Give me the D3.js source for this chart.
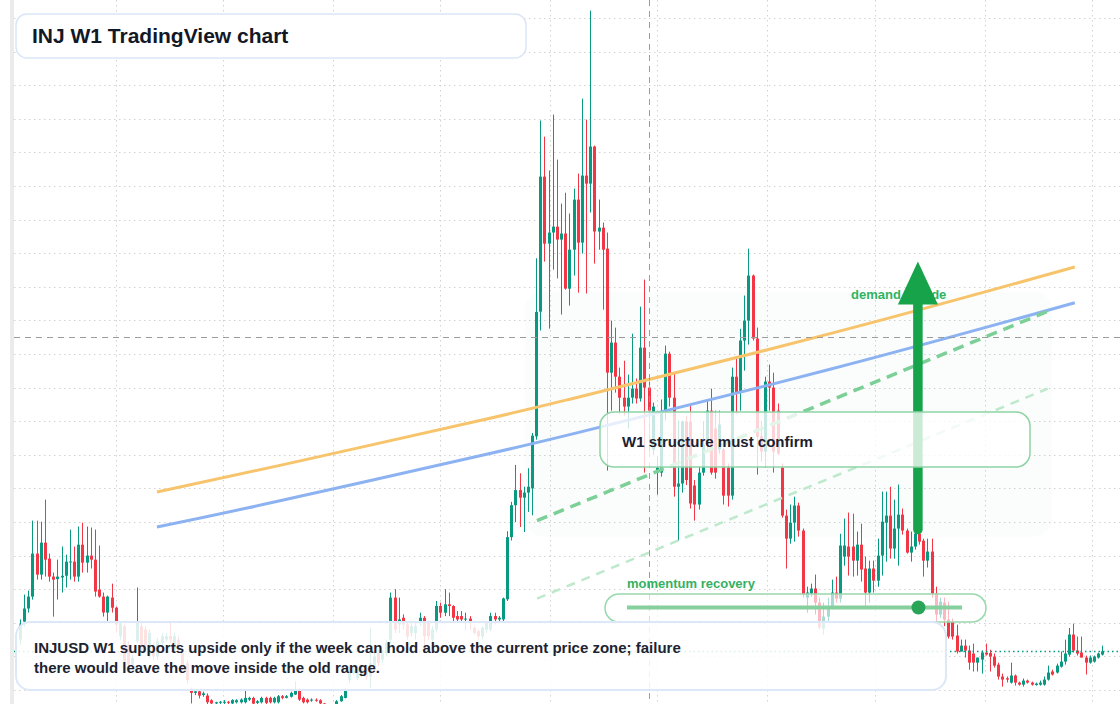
<!DOCTYPE html>
<html>
<head>
<meta charset="utf-8">
<script src="https://cdn.jsdelivr.net/npm/d3@7"></script>
<style>
  html, body { margin: 0; padding: 0; background: #fff; }
  #chart { width: 1120px; height: 704px; overflow: hidden; }
  text { font-family: "Liberation Sans", Arial, sans-serif; }
</style>
</head>
<body>
<div id="chart"></div>
<script>
// weekly INJUSD candles, first week and OHLC
const firstWeek = "2020-07-24";

const openPrices = [
    5.0, 6.07, 6.85, 7.56, 10.12, 8.87, 10.77, 9.82, 8.75, 8.6,
    8.7, 8.8, 9.6, 9.64, 8.75, 10.65, 9.58, 10.0, 9.76, 7.98,
    7.56, 6.61, 7.5, 6.9, 5.2, 5.8, 4.7, 3.5, 4.9, 5.8,
    5.6, 4.1, 4.6, 4.0, 4.8, 5.0, 5.2, 4.4, 5.0, 4.2,
    3.6, 1.98, 1.83, 1.92, 1.7, 1.67, 1.39, 1.2, 1.25, 1.25,
    1.3, 1.2, 1.27, 1.27, 1.27, 1.43, 1.53, 1.23, 1.27, 1.53,
    1.53, 1.27, 1.27, 1.63, 1.53, 1.6, 1.73, 1.98, 1.53, 1.43,
    1.38, 1.42, 1.39, 1.2, 1.05, 0.95, 1.15, 1.33, 1.53, 2.6,
    3.0, 2.7, 2.9, 3.3, 2.8, 3.4, 4.2, 3.8, 4.2, 5.0,
    7.5, 5.9, 6.3, 5.9, 5.4, 5.4, 6.0, 6.3, 6.0, 5.0,
    5.6, 7.0, 6.6, 7.1, 7.0, 6.4, 6.4, 6.2, 6.25, 5.7,
    5.5, 5.2, 5.6, 5.6, 6.4, 6.2, 6.2, 7.4, 11.1, 13.0,
    13.9, 13.45, 13.75, 14.0, 17.1, 24.52, 32.56, 28.57, 29.23, 29.58,
    28.81, 29.17, 25.89, 28.21, 31.19, 28.63, 32.62, 32.14, 34.35, 29.29,
    29.52, 28.27, 20.89, 22.68, 20.65, 19.4, 18.87, 19.4, 19.94, 19.35,
    22.38, 20.0, 16.31, 14.94, 14.94, 18.57, 22.02, 19.4, 14.1, 14.29,
    17.98, 17.98, 14.17, 13.04, 14.94, 16.61, 18.63, 17.56, 16.31, 16.31,
    15.24, 13.57, 20.65, 19.7, 22.8, 23.99, 26.67, 22.92, 17.1, 16.19,
    20.36, 20.0, 18.63, 15.24, 12.38, 11.01, 11.96, 12.98, 11.49, 7.5,
    7.74, 8.04, 7.2, 5.65, 6.37, 6.9, 7.8, 7.44, 9.94, 10.54,
    10.54, 9.7, 10.65, 9.23, 7.8, 9.23, 8.51, 10.0, 11.96, 12.38,
    10.42, 11.61, 12.44, 11.49, 10.18, 10.54, 11.31, 10.89, 9.7, 10.24,
    7.74, 6.49, 7.2, 6.19, 6.07, 5.24, 4.29, 4.64, 4.35, 4.17,
    3.63, 3.81, 4.23, 4.2, 3.99, 3.51, 2.8, 2.7, 2.44, 2.86,
    2.44, 2.32, 2.56, 2.44, 2.3, 2.32, 2.32, 2.62, 3.1, 3.04,
    3.39, 3.69, 4.11, 5.3, 4.35, 4.23, 3.93, 3.63, 3.69, 3.93, 4.11
];
const highPrices = [
    6.2, 7.68, 7.92, 12.08, 12.08, 12.02, 13.33, 10.12, 8.99, 9.76,
    10.54, 10.06, 11.55, 10.54, 11.73, 11.96, 11.73, 11.67, 11.55, 10.6,
    7.8, 7.62, 8.33, 6.96, 6.1, 5.9, 4.9, 4.1, 8.1, 6.0,
    5.8, 5.6, 4.8, 5.1, 5.4, 5.4, 6.1, 5.4, 5.2, 4.4,
    3.8, 2.14, 2.0, 2.0, 1.9, 1.8, 1.45, 1.3, 1.35, 1.4,
    1.35, 1.45, 1.45, 1.5, 2.0, 1.6, 1.6, 1.4, 1.6, 1.6,
    1.6, 1.6, 1.7, 1.7, 1.7, 1.9, 2.52, 2.1, 1.6, 1.5,
    1.5, 1.5, 1.45, 1.22, 1.1, 1.15, 1.4, 1.7, 2.1, 3.4,
    3.5, 3.4, 3.5, 3.4, 5.7, 4.2, 4.4, 4.4, 5.0, 7.8,
    8.0, 7.5, 6.5, 6.0, 6.0, 6.0, 6.6, 6.4, 6.1, 5.8,
    7.3, 7.2, 8.0, 7.8, 7.05, 6.7, 6.7, 6.6, 6.4, 5.8,
    5.6, 5.8, 6.1, 6.6, 6.6, 6.4, 7.5, 11.45, 13.2, 15.4,
    14.9, 14.1, 15.2, 17.3, 27.7, 35.9, 34.94, 32.92, 36.25, 33.57,
    30.95, 31.6, 30.36, 31.85, 32.74, 37.2, 35.95, 42.44, 34.4, 31.19,
    29.82, 29.23, 23.99, 23.57, 21.19, 21.6, 20.77, 23.21, 20.54, 24.82,
    26.43, 20.36, 19.1, 15.9, 19.29, 22.5, 22.14, 20.89, 18.04, 18.04,
    18.3, 18.9, 14.5, 15.3, 18.0, 19.29, 19.94, 18.63, 18.63, 16.43,
    15.48, 21.19, 21.85, 23.5, 25.48, 28.27, 26.73, 23.57, 18.0, 20.65,
    21.37, 20.89, 19.05, 15.48, 12.74, 13.04, 13.51, 13.15, 11.61, 8.15,
    8.33, 8.87, 7.5, 7.2, 7.5, 8.57, 8.75, 11.3, 12.2, 12.56,
    12.5, 11.43, 11.9, 9.94, 9.7, 9.7, 11.01, 13.81, 13.81, 14.1,
    13.33, 14.23, 12.8, 11.61, 11.43, 12.02, 11.43, 11.01, 11.01, 11.01,
    8.15, 7.5, 7.5, 7.26, 6.25, 5.89, 5.0, 5.0, 4.64, 4.76,
    3.93, 4.35, 4.76, 4.4, 4.17, 3.63, 2.98, 2.8, 3.63, 2.92,
    2.5, 2.68, 2.62, 2.5, 2.44, 2.56, 2.8, 3.45, 3.21, 3.57,
    4.29, 5.0, 5.69, 5.95, 5.18, 5.18, 4.05, 4.05, 4.05, 4.23, 4.64
];
const lowPrices = [
    4.7, 5.77, 6.61, 7.38, 8.57, 8.57, 8.75, 8.45, 6.37, 7.38,
    7.8, 8.1, 8.57, 8.45, 8.45, 8.99, 8.99, 9.23, 7.56, 7.5,
    6.37, 6.07, 6.61, 5.42, 5.0, 3.5, 3.3, 3.3, 4.8, 4.2,
    4.4, 3.9, 3.8, 3.8, 4.6, 4.9, 4.8, 4.2, 4.2, 3.2,
    2.4, 1.2, 1.7, 1.5, 1.6, 1.1, 1.0, 1.1, 1.15, 1.1,
    1.1, 1.1, 1.2, 1.2, 1.2, 1.35, 1.1, 1.15, 1.2, 1.15,
    1.2, 1.2, 1.2, 1.45, 1.5, 1.55, 1.7, 1.35, 1.2, 1.2,
    1.3, 1.3, 1.1, 0.95, 0.85, 0.9, 1.1, 1.3, 1.5, 2.4,
    2.9, 2.6, 2.8, 2.6, 2.1, 3.3, 3.4, 3.6, 4.0, 4.8,
    5.4, 5.4, 5.6, 5.0, 5.2, 5.0, 5.8, 4.4, 5.0, 4.8,
    5.4, 6.3, 6.4, 6.4, 6.1, 6.1, 6.0, 5.55, 5.6, 5.3,
    5.0, 5.0, 5.4, 5.5, 5.9, 6.1, 6.1, 7.3, 10.9, 12.0,
    11.7, 11.4, 12.6, 12.4, 16.9, 23.4, 27.5, 23.51, 27.02, 26.5,
    24.35, 25.83, 24.88, 26.67, 25.65, 27.98, 25.6, 30.42, 27.38, 28.21,
    24.64, 15.06, 18.63, 19.7, 18.45, 18.33, 17.56, 19.05, 19.05, 19.17,
    14.94, 16.07, 16.0, 13.63, 14.7, 18.04, 18.87, 13.51, 10.89, 13.75,
    14.2, 12.8, 12.08, 12.74, 14.76, 16.37, 14.82, 14.58, 16.07, 13.04,
    12.92, 13.33, 18.45, 18.63, 21.01, 22.56, 22.8, 14.82, 15.6, 15.24,
    18.63, 14.94, 16.0, 12.26, 9.23, 10.71, 10.83, 11.13, 7.5, 6.6,
    7.56, 6.49, 5.6, 5.3, 6.0, 6.8, 7.2, 7.2, 9.4, 8.81,
    8.75, 8.81, 8.45, 6.85, 7.2, 7.8, 8.15, 8.81, 9.64, 9.82,
    9.82, 9.4, 11.25, 10.12, 9.64, 10.36, 10.65, 8.75, 9.29, 7.5,
    6.01, 6.3, 5.8, 5.06, 5.0, 4.17, 4.29, 3.93, 3.21, 3.1,
    3.1, 2.98, 4.05, 3.1, 3.33, 2.62, 2.2, 2.45, 2.38, 2.26,
    2.26, 2.2, 2.38, 2.26, 2.26, 2.26, 2.26, 2.56, 2.86, 2.98,
    3.33, 3.51, 3.99, 4.23, 4.05, 3.93, 2.92, 3.57, 3.63, 3.87, 4.05
];
const closePrices = [
    5.9, 6.85, 7.56, 10.12, 8.87, 10.77, 9.76, 8.75, 8.57, 8.75,
    8.8, 9.64, 9.65, 8.75, 10.65, 9.58, 10.0, 9.76, 7.86, 7.56,
    6.61, 7.56, 6.9, 5.89, 6.0, 3.7, 3.5, 3.9, 6.0, 4.4,
    4.6, 5.4, 4.0, 4.9, 5.2, 5.2, 5.0, 5.2, 4.4, 3.4,
    2.6, 1.83, 1.92, 1.67, 1.8, 1.27, 1.2, 1.27, 1.3, 1.3,
    1.25, 1.4, 1.39, 1.43, 1.53, 1.53, 1.19, 1.33, 1.53, 1.23,
    1.27, 1.53, 1.63, 1.53, 1.63, 1.83, 1.98, 1.43, 1.27, 1.27,
    1.43, 1.36, 1.2, 1.05, 0.95, 1.1, 1.33, 1.63, 2.02, 3.2,
    3.2, 3.3, 3.3, 2.8, 3.6, 4.0, 3.6, 4.2, 4.8, 7.5,
    5.6, 6.2, 5.9, 5.2, 5.8, 5.8, 6.3, 5.2, 5.2, 5.6,
    7.0, 6.6, 7.1, 7.0, 6.3, 6.2, 6.2, 6.25, 6.0, 5.4,
    5.2, 5.7, 6.0, 6.4, 6.2, 6.3, 7.45, 11.1, 13.0, 13.9,
    13.45, 13.75, 14.1, 17.14, 24.5, 32.56, 28.57, 29.23, 29.58, 28.81,
    29.17, 25.89, 28.21, 31.19, 28.63, 32.62, 32.14, 34.35, 29.29, 29.52,
    28.21, 20.89, 22.68, 20.65, 19.4, 18.87, 19.4, 19.94, 19.35, 22.38,
    20.0, 18.63, 18.87, 15.24, 18.57, 22.02, 19.4, 14.1, 14.29, 17.98,
    14.5, 13.1, 13.04, 14.94, 16.61, 18.63, 14.94, 14.94, 17.8, 13.57,
    13.57, 20.65, 19.7, 22.8, 23.99, 26.67, 22.92, 17.08, 16.2, 20.36,
    20.0, 16.19, 16.07, 12.38, 11.01, 11.96, 12.98, 11.49, 7.68, 7.8,
    8.04, 7.2, 5.71, 6.37, 6.9, 7.8, 7.44, 10.6, 10.6, 9.94,
    9.7, 10.65, 9.17, 7.8, 9.23, 8.51, 10.0, 12.02, 12.38, 10.42,
    11.61, 12.44, 11.49, 10.18, 10.54, 11.31, 10.83, 9.7, 10.24, 7.74,
    6.49, 7.26, 6.19, 5.18, 5.18, 4.29, 4.64, 4.35, 3.63, 3.63,
    3.93, 4.23, 4.11, 3.99, 3.45, 2.8, 2.62, 2.62, 2.86, 2.44,
    2.32, 2.56, 2.44, 2.32, 2.38, 2.44, 2.62, 3.04, 2.92, 3.45,
    3.69, 4.17, 5.3, 4.35, 4.17, 3.93, 3.63, 3.93, 3.99, 4.17, 4.3
];

// moving averages, sampled at week offsets
const maWeeks = [32.9, 62.45, 110.5, 134.5, 194.6, 253.4];
const maFast = [13.79, 15.37, 18.04, 19.46, 23.21, 27.18];
const maSlow = [11.70, 13.26, 15.94, 17.35, 21.09, 25.05];

// trend channel drawn on the chart
const channelWeeks = [124.2, 246.9];
const channelUpper = [12.08, 24.54];
const channelLower = [7.44, 19.94];

// demand zone and the upside arrow
const zoneWeeks = [121.3, 247.9];
const zonePrices = [11.13, 25.71];
const arrowWeek = 215.7;
const arrowPrices = [11.55, 27.5];

const crossWeek = 151;
const crossPrice = 23.0;
const momentumLevel = 0.87;

const titleText = "INJ W1 TradingView chart";
const noteLines = [
    "INJUSD W1 supports upside only if the week can hold above the current price zone; failure",
    "there would leave the move inside the old range."
];

class WeeklyCandleChart {
    constructor(parentElement) {
        this.parentElement = parentElement;
        this.initVis();
    }

    initVis() {
        let vis = this;

        vis.width = 1120;
        vis.height = 704;

        vis.svg = d3.select("#" + vis.parentElement)
            .append("svg")
            .attr("width", vis.width)
            .attr("height", vis.height)
            .style("display", "block");

        vis.start = new Date(firstWeek + "T00:00:00Z");
        vis.weekDate = w => new Date(vis.start.getTime() + w * 7 * 864e5);

        vis.xScale = d3.scaleUtc()
            .domain([vis.start, vis.weekDate(closePrices.length - 1)])
            .range([20, 1102.3]);

        vis.yScale = d3.scaleLinear()
            .domain([0, 42])
            .range([723.6, 18]);

        vis.up = "#089981";
        vis.down = "#f23645";

        vis.wrangleData();
    }

    wrangleData() {
        let vis = this;

        vis.displayData = closePrices.map((c, i) => ({
            date: vis.weekDate(i),
            open: openPrices[i],
            high: highPrices[i],
            low: lowPrices[i],
            close: c
        }));

        vis.updateVis();
    }

    updateVis() {
        let vis = this;
        const x = vis.xScale, y = vis.yScale;
        const svg = vis.svg;

        // left scale strip
        svg.append("rect")
            .attr("x", 10).attr("y", 0)
            .attr("width", 4).attr("height", vis.height)
            .attr("fill", "#ebebeb");

        // grid
        const grid = svg.append("g").attr("class", "grid")
            .attr("stroke", "#d2d2d2")
            .attr("stroke-width", 1)
            .attr("stroke-dasharray", "1.5,3.5");

        grid.selectAll(".h-grid")
            .data(y.ticks(21))
            .enter().append("line")
            .attr("class", "h-grid")
            .attr("x1", 14).attr("x2", vis.width)
            .attr("y1", d => Math.round(y(d)) + 0.5)
            .attr("y2", d => Math.round(y(d)) + 0.5);

        grid.selectAll(".v-grid")
            .data(x.ticks(d3.utcMonth.every(6)))
            .enter().append("line")
            .attr("class", "v-grid")
            .attr("y1", 0).attr("y2", vis.height)
            .attr("x1", d => Math.round(x(d)) + 0.5)
            .attr("x2", d => Math.round(x(d)) + 0.5);

        // demand zone
        const zx0 = x(vis.weekDate(zoneWeeks[0]));
        const zx1 = x(vis.weekDate(zoneWeeks[1]));
        svg.append("rect")
            .attr("x", zx0)
            .attr("y", y(zonePrices[1]))
            .attr("width", zx1 - zx0)
            .attr("height", y(zonePrices[0]) - y(zonePrices[1]))
            .attr("rx", 18)
            .attr("fill", "#16a34a")
            .attr("fill-opacity", 0.025);

        // candles
        const candles = svg.append("g").attr("class", "candles")
            .selectAll(".candle")
            .data(vis.displayData)
            .enter().append("g")
            .attr("class", "candle");

        candles.append("line")
            .attr("x1", d => Math.round(x(d.date)) + 0.5)
            .attr("x2", d => Math.round(x(d.date)) + 0.5)
            .attr("y1", d => y(d.high))
            .attr("y2", d => y(d.low))
            .attr("stroke", d => d.close >= d.open ? vis.up : vis.down)
            .attr("stroke-width", 1);

        candles.append("rect")
            .attr("x", d => Math.round(x(d.date)) - 1)
            .attr("width", 3)
            .attr("y", d => y(Math.max(d.open, d.close)))
            .attr("height", d => Math.max(1, Math.abs(y(d.open) - y(d.close))))
            .attr("fill", d => d.close >= d.open ? vis.up : vis.down);

        // moving averages
        const maLine = d3.line()
            .x(d => x(vis.weekDate(d[0])))
            .y(d => y(d[1]))
            .curve(d3.curveNatural);

        svg.append("path")
            .datum(maWeeks.map((w, i) => [w, maFast[i]]))
            .attr("d", maLine)
            .attr("fill", "none")
            .attr("stroke", "#f7c46c")
            .attr("stroke-width", 3);

        svg.append("path")
            .datum(maWeeks.map((w, i) => [w, maSlow[i]]))
            .attr("d", maLine)
            .attr("fill", "none")
            .attr("stroke", "#8cb2f2")
            .attr("stroke-width", 3);

        // channel
        const straight = d3.line()
            .x(d => x(vis.weekDate(d[0])))
            .y(d => y(d[1]));

        svg.append("path")
            .datum(channelWeeks.map((w, i) => [w, channelUpper[i]]))
            .attr("d", straight)
            .attr("fill", "none")
            .attr("stroke", "#7ccf96")
            .attr("stroke-width", 3.5)
            .attr("stroke-dasharray", "11,7");

        svg.append("path")
            .datum(channelWeeks.map((w, i) => [w, channelLower[i]]))
            .attr("d", straight)
            .attr("fill", "none")
            .attr("stroke", "#bfe9cc")
            .attr("stroke-width", 2.5)
            .attr("stroke-dasharray", "9,7");

        // crosshair
        const cx = Math.round(x(vis.weekDate(crossWeek))) + 0.5;
        const cy = Math.round(y(crossPrice)) + 0.5;
        svg.append("line")
            .attr("x1", cx).attr("x2", cx)
            .attr("y1", 0).attr("y2", vis.height)
            .attr("stroke", "#9b9b9b")
            .attr("stroke-dasharray", "6,5");
        svg.append("line")
            .attr("x1", 14).attr("x2", vis.width)
            .attr("y1", cy).attr("y2", cy)
            .attr("stroke", "#9b9b9b")
            .attr("stroke-dasharray", "6,5");

        // last price
        const lastY = Math.round(y(closePrices[closePrices.length - 1])) + 0.5;
        svg.append("line")
            .attr("x1", 14).attr("x2", vis.width)
            .attr("y1", lastY).attr("y2", lastY)
            .attr("stroke", vis.up)
            .attr("stroke-width", 1.5)
            .attr("stroke-dasharray", "1.5,3");

        // demand label + arrow
        svg.append("text")
            .attr("x", 851).attr("y", 298.5)
            .style("font-size", "13px")
            .style("font-weight", "bold")
            .style("fill", "#2fb362")
            .text("demand upside");

        const ax = x(vis.weekDate(arrowWeek));
        const tipY = y(arrowPrices[1]);
        svg.append("line")
            .attr("x1", ax).attr("x2", ax)
            .attr("y1", y(arrowPrices[0]))
            .attr("y2", tipY + 40)
            .attr("stroke", "#16a34a")
            .attr("stroke-width", 9.5)
            .attr("stroke-linecap", "round");
        svg.append("path")
            .attr("d", `M${ax},${tipY} L${ax + 20},${tipY + 43} L${ax - 20},${tipY + 43} Z`)
            .attr("fill", "#16a34a");

        // W1 structure box
        svg.append("rect")
            .attr("x", 600).attr("y", 412)
            .attr("width", 430).attr("height", 55)
            .attr("rx", 14)
            .attr("fill", "#fff").attr("fill-opacity", 0.78)
            .attr("stroke", "#8fd3a6").attr("stroke-width", 1.5);
        svg.append("text")
            .attr("x", 622).attr("y", 447)
            .style("font-size", "15px")
            .style("font-weight", "bold")
            .style("fill", "#1b2130")
            .text("W1 structure must confirm");

        // momentum gauge
        svg.append("text")
            .attr("x", 627).attr("y", 587.5)
            .style("font-size", "13px")
            .style("font-weight", "bold")
            .style("fill", "#34b162")
            .text("momentum recovery");
        svg.append("rect")
            .attr("x", 605).attr("y", 594)
            .attr("width", 381).attr("height", 28)
            .attr("rx", 14)
            .attr("fill", "#fff").attr("fill-opacity", 0.65)
            .attr("stroke", "#98d8ad").attr("stroke-width", 1.5);
        const gauge = d3.scaleLinear().domain([0, 1]).range([627, 962]);
        svg.append("line")
            .attr("x1", gauge(0)).attr("x2", gauge(1))
            .attr("y1", 607.5).attr("y2", 607.5)
            .attr("stroke", "#86d09e")
            .attr("stroke-width", 4);
        svg.append("circle")
            .attr("cx", gauge(momentumLevel)).attr("cy", 607.5)
            .attr("r", 7)
            .attr("fill", "#2aa557");

        // note box
        svg.append("rect")
            .attr("x", 16).attr("y", 622)
            .attr("width", 930).attr("height", 68)
            .attr("rx", 14)
            .attr("fill", "#fff").attr("fill-opacity", 0.86)
            .attr("stroke", "#dce7f8").attr("stroke-width", 2);
        svg.selectAll(".note-line")
            .data(noteLines)
            .enter().append("text")
            .attr("class", "note-line")
            .attr("x", 34)
            .attr("y", (d, i) => 653.3 + i * 20)
            .style("font-size", "15px")
            .style("font-weight", "bold")
            .style("fill", "#1c2331")
            .text(d => d);

        // title box
        svg.append("rect")
            .attr("x", 16).attr("y", 14)
            .attr("width", 510).attr("height", 44)
            .attr("rx", 11)
            .attr("fill", "#fff")
            .attr("stroke", "#dae6f8").attr("stroke-width", 1.5);
        svg.append("text")
            .attr("x", 32).attr("y", 43)
            .style("font-size", "21px")
            .style("font-weight", "bold")
            .style("fill", "#121826")
            .text(titleText);
    }
}

new WeeklyCandleChart("chart");
</script>
</body>
</html>
